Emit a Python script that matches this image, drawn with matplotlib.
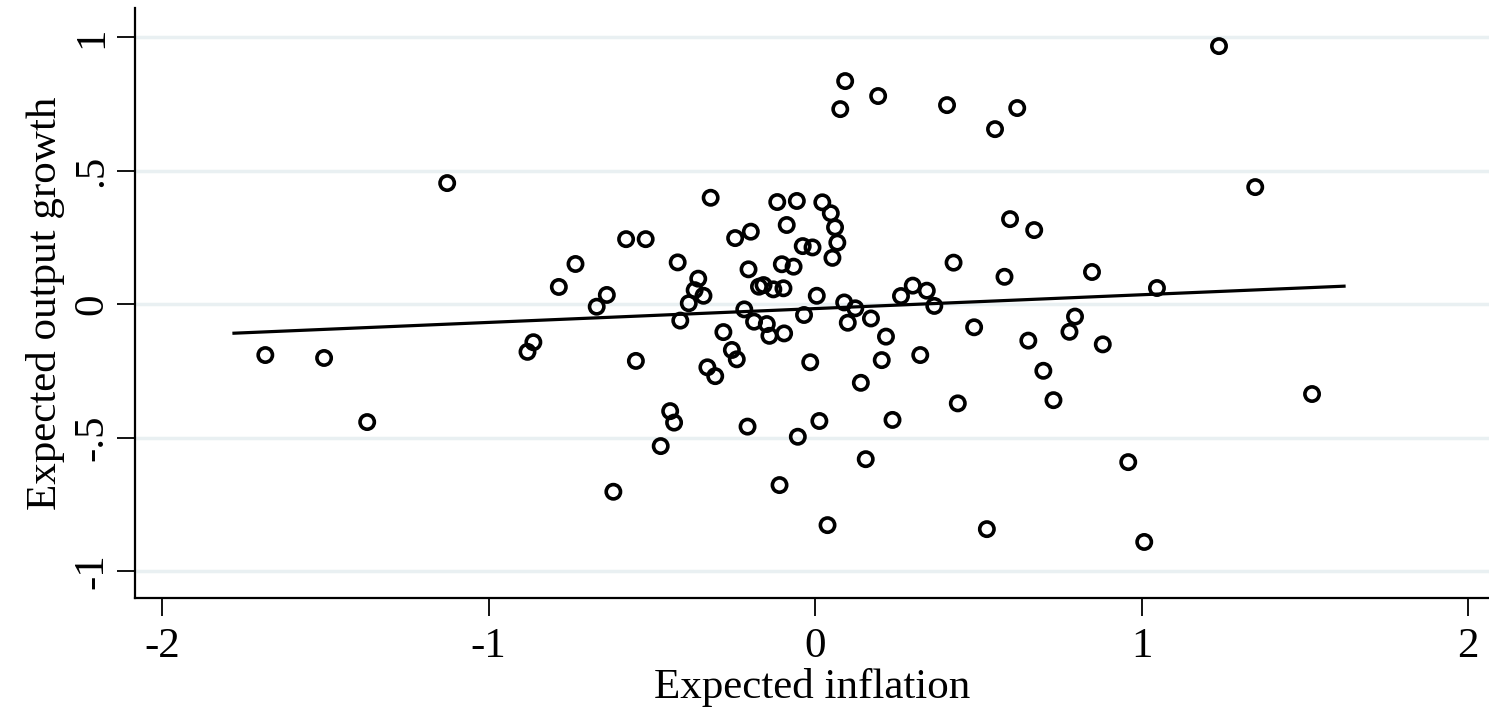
import numpy as np
import matplotlib.pyplot as plt

# Datos (inflación esperada vs crecimiento esperado)
infl = [-1.684, -1.504, -1.372, -1.127, -0.881, -0.863, -0.785, -0.734,
        -0.669, -0.638, -0.618, -0.579, -0.519, -0.549, -0.473, -0.444,
        -0.432, -0.421, -0.413, -0.387, -0.369, -0.358, -0.342, -0.330,
        -0.320, -0.306, -0.281, -0.255, -0.245, -0.240, -0.217,
        -0.207, -0.204, -0.197, -0.187, -0.172, -0.158, -0.148, -0.140,
        -0.128, -0.116, -0.109, -0.102, -0.097, -0.095, -0.087, -0.066,
        -0.056, -0.053, -0.038, -0.034, -0.015, -0.008, 0.005,
        0.013, 0.022, 0.038, 0.048, 0.053, 0.061, 0.068, 0.077,
        0.089, 0.092, 0.100, 0.123, 0.140, 0.155, 0.171, 0.193,
        0.204, 0.217, 0.237, 0.263, 0.299, 0.322, 0.342, 0.365,
        0.404, 0.424, 0.437, 0.487, 0.526, 0.551, 0.580, 0.597,
        0.619, 0.653, 0.671, 0.699, 0.730, 0.779, 0.796, 0.848,
        0.881, 0.959, 1.008, 1.047, 1.237, 1.348, 1.522]
growth = [-0.191, -0.202, -0.442, 0.453, -0.179, -0.143, 0.064, 0.150,
          -0.010, 0.034, -0.703, 0.243, 0.243, -0.213, -0.532, -0.401,
          -0.444, 0.156, -0.062, 0.003, 0.052, 0.095, 0.031, -0.237,
          0.398, -0.270, -0.105, -0.172, 0.247, -0.207, -0.020,
          -0.459, 0.130, 0.271, -0.066, 0.065, 0.071, -0.075, -0.119,
          0.055, 0.382, -0.678, 0.149, 0.059, -0.110, 0.296, 0.140,
          0.386, -0.497, 0.217, -0.041, -0.218, 0.212, 0.031,
          -0.438, 0.381, -0.828, 0.340, 0.173, 0.287, 0.230, 0.730,
          0.006, 0.835, -0.070, -0.016, -0.295, -0.581, -0.054, 0.779,
          -0.210, -0.122, -0.434, 0.030, 0.069, -0.191, 0.050, -0.007,
          0.745, 0.155, -0.372, -0.087, -0.843, 0.655, 0.102, 0.318,
          0.734, -0.137, 0.277, -0.250, -0.360, -0.104, -0.047, 0.120,
          -0.151, -0.592, -0.891, 0.060, 0.966, 0.438, -0.337]

# Recta ajustada (extremos y coeficientes)
fit_range = [-1.78, 1.62]
fit_slope = 0.0518
fit_intercept = -0.017

xticks = [-2, -1, 0, 1, 2]
yticks = [-1, -0.5, 0, 0.5, 1]
yticklabels = ['-1', '-.5', '0', '.5', '1']

plt.rcParams['font.family'] = ['Liberation Serif', 'DejaVu Serif']

fig = plt.figure(figsize=(14.89, 7.2), dpi=100)
ax = fig.add_axes([0.0907, 0.1694, 0.9093, 0.8196])

for y in yticks:
    ax.axhline(y, color='#e9f0f2', lw=2.5, zorder=0)

ax.scatter(infl, growth, s=10.3**2, facecolors='none', edgecolors='black',
           linewidths=2.6, zorder=3)

fx = np.array(fit_range)
ax.plot(fx, fit_intercept + fit_slope * fx, color='black', lw=2.3, zorder=2)

ax.set_xlim(-2.083, 2.064)
ax.set_ylim(-1.101, 1.109)
ax.set_xticks(xticks)
ax.set_xticklabels([str(t) for t in xticks])
ax.set_yticks(yticks)
ax.set_yticklabels(yticklabels, rotation=90, va='center')

for s in ['top', 'right']:
    ax.spines[s].set_visible(False)
for s in ['left', 'bottom']:
    ax.spines[s].set_linewidth(1.6)

ax.tick_params(axis='both', direction='out', length=13, width=1.3,
               labelsize=31, color='black')
ax.tick_params(axis='x', pad=8)
ax.tick_params(axis='y', pad=4)

ax.set_xlabel('Expected inflation', fontsize=31, labelpad=2)
ax.set_ylabel('Expected output growth', fontsize=31, labelpad=6)

fig.savefig('out.png', dpi=100)
